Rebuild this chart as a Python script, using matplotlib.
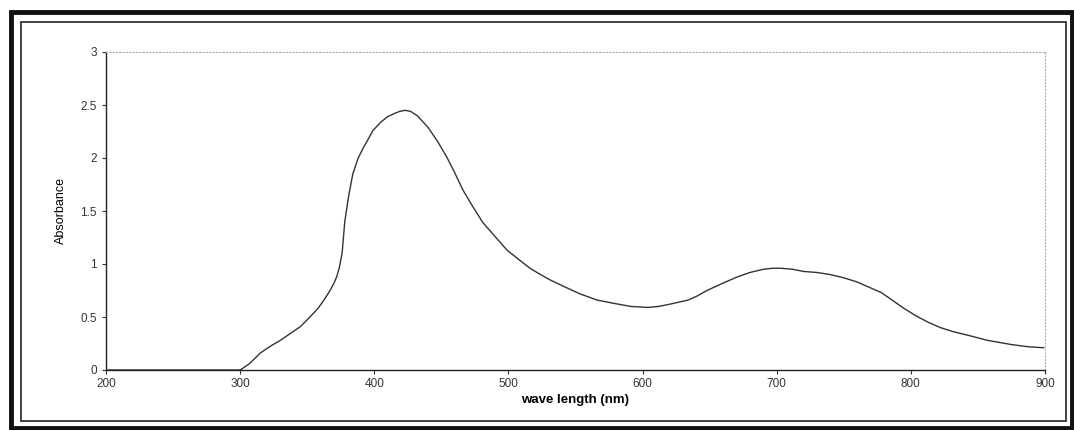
import numpy as np
import matplotlib.pyplot as plt
from matplotlib.patches import Rectangle

plt.rcParams["font.family"] = ["Liberation Sans", "DejaVu Sans"]

# absorbance spectrum
wavelength = [200, 250, 300, 307, 315, 322, 330, 338, 345, 352, 358, 363, 367,
              370, 372, 374, 376, 378, 381, 384, 388, 392, 396, 399, 405, 410,
              415, 419, 423, 427, 432, 440, 447, 454, 460, 466, 473, 481, 490,
              499, 508, 516, 524, 531, 541, 553, 566, 578, 591, 604, 612, 620,
              627, 634, 641, 648, 660, 671, 680, 690, 697, 703, 712, 720, 730,
              740, 750, 760, 769, 778, 786, 795, 804, 813, 822, 832, 845, 857,
              866, 875, 887, 899]
absorbance = [0, 0, 0, 0.06, 0.16, 0.22, 0.28, 0.35, 0.41, 0.5, 0.58, 0.67, 0.75,
              0.82, 0.88, 0.97, 1.1, 1.4, 1.65, 1.85, 2.0, 2.1, 2.19, 2.26, 2.34, 2.39,
              2.42, 2.44, 2.45, 2.44, 2.4, 2.29, 2.16, 2.01, 1.86, 1.7, 1.55, 1.39, 1.26,
              1.13, 1.04, 0.96, 0.9, 0.85, 0.79, 0.72, 0.66, 0.63, 0.6, 0.59, 0.6, 0.62,
              0.64, 0.66, 0.7, 0.75, 0.82, 0.88, 0.92, 0.95, 0.96, 0.96, 0.95, 0.93, 0.92,
              0.9, 0.87, 0.83, 0.78, 0.73, 0.66, 0.58, 0.51, 0.45, 0.4, 0.36, 0.32, 0.28,
              0.26, 0.24, 0.22, 0.21]

x_ticks = [200, 300, 400, 500, 600, 700, 800, 900]
y_ticks = [0, 0.5, 1, 1.5, 2, 2.5, 3]
y_tick_labels = ["0", "0.5", "1", "1.5", "2", "2.5", "3"]

W, H = 1074, 430
fig = plt.figure(figsize=(W / 100, H / 100), dpi=100)
ax = fig.add_axes([106 / W, (H - 370) / H, (1045 - 106) / W, (370 - 52) / H])

ax.plot(wavelength, absorbance, color="#333333", lw=1.0)
ax.set_xlim(200, 900)
ax.set_ylim(0, 3)
ax.set_xticks(x_ticks)
ax.set_yticks(y_ticks, y_tick_labels)
ax.tick_params(direction="out", length=3, width=0.8, labelsize=8.5, colors="#333333")
ax.tick_params(axis="x", pad=3)

for s in ["left", "bottom"]:
    ax.spines[s].set_color("#222222")
    ax.spines[s].set_linewidth(1.0)
for s in ["top", "right"]:
    ax.spines[s].set_color("#aaaaaa")
    ax.spines[s].set_linestyle((0, (1, 2)))
    ax.spines[s].set_linewidth(0.8)

ax.set_xlabel("wave length (nm)", fontsize=9.5, fontweight="bold", labelpad=3)
ax.set_ylabel("Absorbance", fontsize=9, labelpad=10)

# scanned double border around the chart
fig.patches.append(Rectangle((11 / W, (H - 428) / H), (1072 - 11) / W, (428 - 12) / H,
                             transform=fig.transFigure, fill=False, lw=3.5, ec="#111111"))
fig.patches.append(Rectangle((21 / W, (H - 421) / H), (1066 - 21) / W, (421 - 22) / H,
                             transform=fig.transFigure, fill=False, lw=1.2, ec="#222222"))

fig.savefig("out.png", dpi=100)
